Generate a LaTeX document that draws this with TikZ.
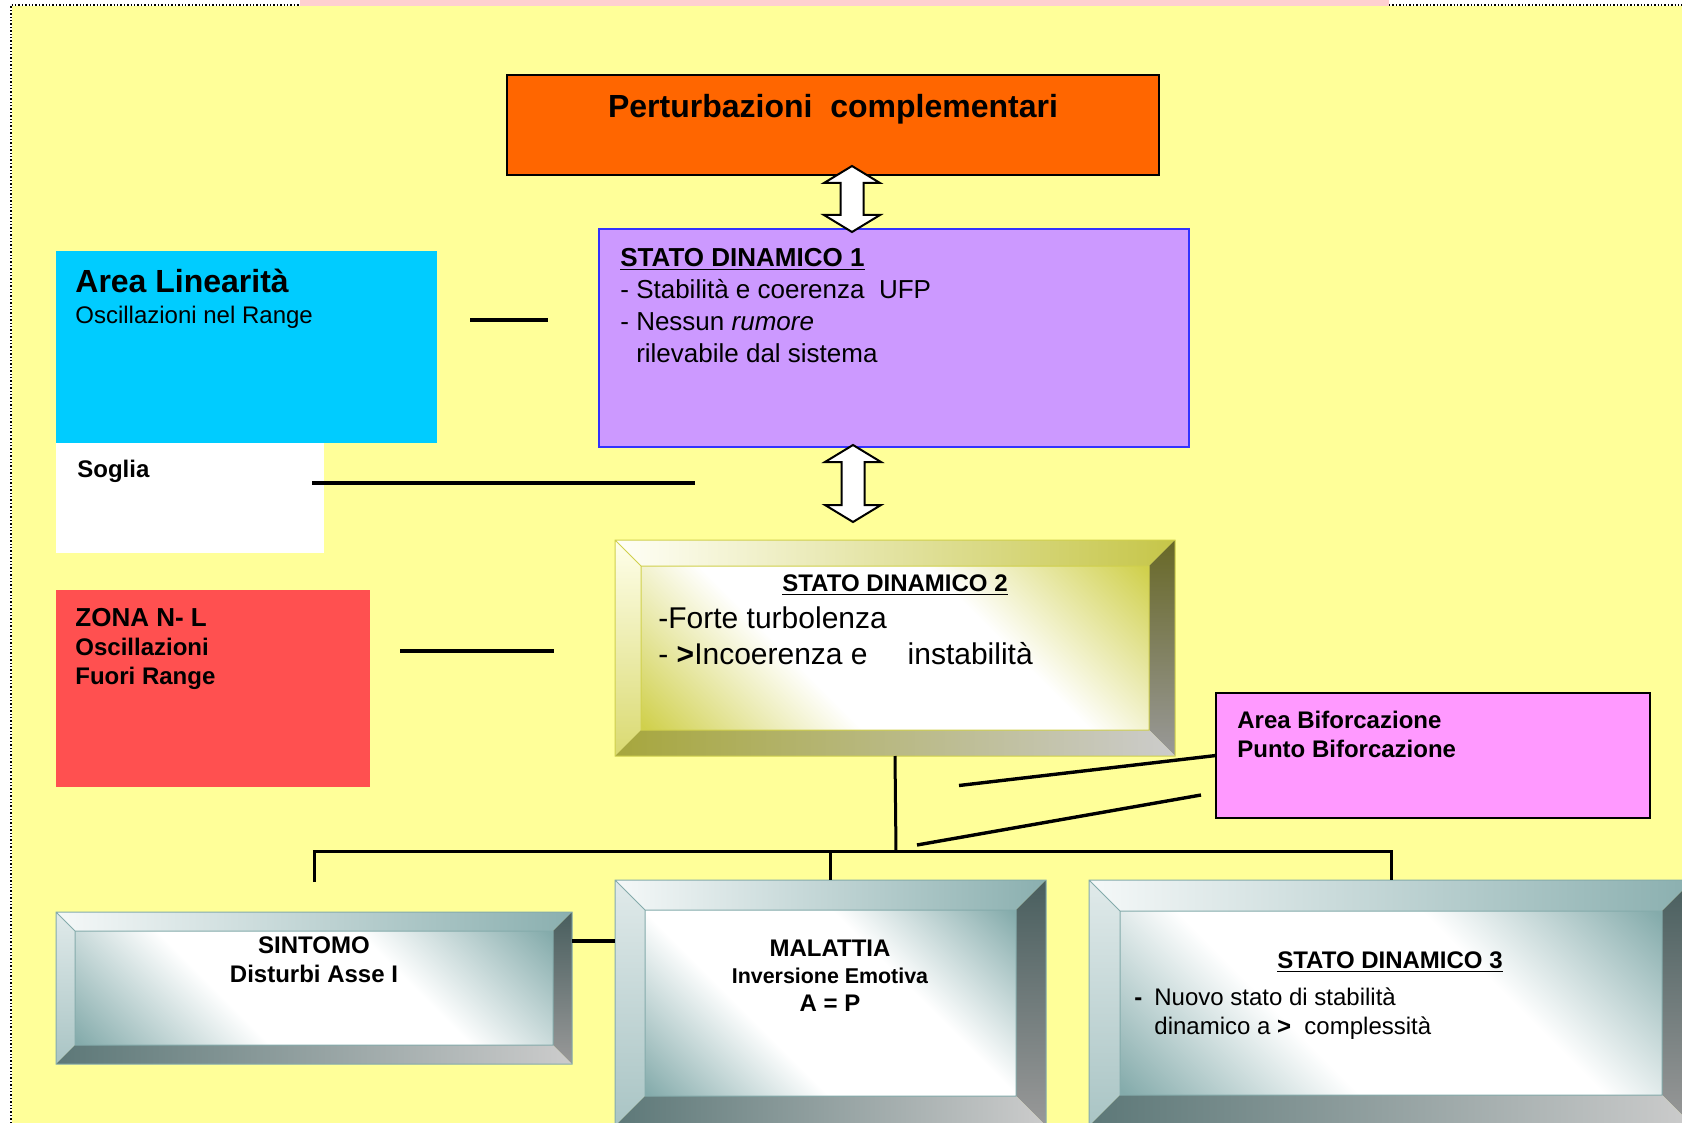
\documentclass[tikz,border=0pt]{standalone}
\usepackage{fontspec}
\setmainfont{Liberation Sans}
\usetikzlibrary{positioning, calc}

\definecolor{bgyellow}{HTML}{FFFF99}
\definecolor{topbar}{HTML}{FFD0D0}
\definecolor{pertorange}{HTML}{FF6600}
\definecolor{sdviolet}{HTML}{CC99FF}
\definecolor{sdblue}{HTML}{3333FF}
\definecolor{lincyan}{HTML}{00CCFF}
\definecolor{zonared}{HTML}{FF5050}
\definecolor{bifpink}{HTML}{FF99FF}
% yellow bevel (stato dinamico 2)
\definecolor{ycorner}{HTML}{D0D04C}
% teal bevel (sintomo, malattia, stato dinamico 3)
\definecolor{tcorner}{HTML}{84ABAB}

\pgfdeclarehorizontalshading{yfaceshade}{100bp}{color(0bp)=(ycorner); color(15bp)=(ycorner); color(38bp)=(white); color(62bp)=(white); color(85bp)=(ycorner); color(100bp)=(ycorner)}
\pgfdeclarehorizontalshading{tfaceshade}{100bp}{color(0bp)=(tcorner); color(15bp)=(tcorner); color(38bp)=(white); color(62bp)=(white); color(85bp)=(tcorner); color(100bp)=(tcorner)}

% bevelled box round a named node: #1 node, #2 bevel, #3 palette
\newcommand{\bevelbox}[3]{%
  \path[#3face] ($(#1.north west)+(#2,#2)$) rectangle ($(#1.south east)+(-#2,-#2)$);
  \path[#3top] (#1.north west) -- (#1.north east) -- ($(#1.north east)+(-#2,#2)$) -- ($(#1.north west)+(#2,#2)$) -- cycle;
  \path[#3left] (#1.north west) -- ($(#1.north west)+(#2,#2)$) -- ($(#1.south west)+(#2,-#2)$) -- (#1.south west) -- cycle;
  \path[#3right] (#1.north east) -- (#1.south east) -- ($(#1.south east)+(-#2,-#2)$) -- ($(#1.north east)+(-#2,#2)$) -- cycle;
  \path[#3bottom] (#1.south west) -- ($(#1.south west)+(#2,-#2)$) -- ($(#1.south east)+(-#2,-#2)$) -- (#1.south east) -- cycle;
  \draw[#3edge] (#1.north west) rectangle (#1.south east)
    ($(#1.north west)+(#2,#2)$) rectangle ($(#1.south east)+(-#2,-#2)$)
    (#1.north west) -- ++(#2,#2);
}

% hollow double arrow between two named points
\newcommand{\dblarrow}[2]{%
  \draw[blockarr] (#1) -- ++(28,17) -- ++(-16.5,0) -- ($(#2)+(11.5,-17)$) -- ++(16.5,0) -- (#2)
    -- ++(-28,-17) -- ++(16.5,0) -- ($(#1)+(-11.5,17)$) -- ++(-16.5,0) -- cycle;
}

\begin{document}
\begin{tikzpicture}[x=0.5pt, y=-0.5pt,
  box/.style={inner sep=0pt, outer sep=0pt},
  txt/.style={inner sep=0pt, anchor=north west, align=left},
  link/.style={line width=1.7pt},
  tree/.style={line width=1.5pt},
  blockarr/.style={draw, fill=white, line width=1pt, line join=miter},
  yface/.style={shade, shading=yfaceshade, shading angle=45},
  ytop/.style={left color=yellow!3, right color=ycorner!95!black},
  yleft/.style={top color=yellow!8, bottom color=ycorner!80},
  yright/.style={top color=ycorner!50!black, bottom color=black!40},
  ybottom/.style={left color=ycorner!80!black, right color=black!20},
  yedge/.style={draw=ycorner, line width=0.5pt},
  tface/.style={shade, shading=tfaceshade, shading angle=45},
  ttop/.style={left color=tcorner!8, right color=tcorner!95},
  tleft/.style={top color=tcorner!25, bottom color=tcorner!70},
  tright/.style={top color=tcorner!55!black, bottom color=black!40},
  tbottom/.style={left color=tcorner!70!black, right color=black!20},
  tedge/.style={draw=tcorner, line width=0.5pt}
]
\useasboundingbox (0,0) rectangle (1682,1123);
\clip (0,0) rectangle (1682,1123);

% background
\fill[topbar] (300,0) rectangle (1389,6);
\fill[bgyellow] (12,6) rectangle (1682,1123);
\draw[densely dotted, line width=0.7pt] (11,1123) -- (11,5) -- (300,5);
\draw[densely dotted, line width=0.7pt] (1389,5) -- (1682,5);

% Perturbazioni
\node[box, draw, line width=1pt, fill=pertorange, minimum width=326pt, minimum height=50pt] (pert) at (833,125) {};

% Stato dinamico 1
\node[box, draw=sdblue, line width=0.8pt, fill=sdviolet, minimum width=295pt, minimum height=109pt] (sd1) at (894,338) {};

% Area linearita / Soglia / Zona N-L
\node[box, fill=lincyan, minimum width=190.5pt, minimum height=96pt] (lin) at (246.5,347) {};
\node[box, fill=white, minimum width=134pt, minimum height=55pt, below=0pt of lin.south west, anchor=north west] (soglia) {};
\node[box, fill=zonared, minimum width=157pt, minimum height=98.5pt] (zona) at (213,688.5) {};

% Area biforcazione
\node[box, draw, line width=1pt, fill=bifpink, minimum width=217pt, minimum height=62.5pt] (bif) at (1433,755.5) {};

% bevelled boxes
\node[box, minimum width=280pt, minimum height=108pt] (sd2) at (895,648) {};
\bevelbox{sd2}{26}{y}
\node[box, minimum width=258pt, minimum height=76pt] (sint) at (314,988) {};
\bevelbox{sint}{19}{t}
\node[box, minimum width=215.5pt, minimum height=123pt] (mal) at (830.5,1003) {};
\bevelbox{mal}{30}{t}
\node[box, minimum width=302pt, minimum height=123pt] (sd3) at (1391,1003) {};
\bevelbox{sd3}{31}{t}

%--- double arrows ---
\coordinate (ar1top) at (852,166);
\coordinate (ar1bot) at (852,232);
\coordinate (ar2top) at (853,445);
\coordinate (ar2bot) at (853,522);
\dblarrow{ar1top}{ar1bot}
\dblarrow{ar2top}{ar2bot}

%--- side lines ---
\draw[link] ($(lin.north east)+(33,69)$) -- ++(78,0);
\draw[link] ($(soglia.east)+(-12,-15)$) -- ++(383,0);
\draw[link] ($(zona.north east)+(30,61)$) -- ++(154,0);
\draw[link] (bif.west) -- ++(-257,30);
\draw[link] ($(bif.south west)+(-15,-23)$) -- ++(-284,50);

%--- tree ---
\coordinate (hub) at (896,851);
\draw[tree] (sd2.south) -- (hub);
\draw[tree] ($(sint.north |- hub)+(0,31)$) -- (sint.north |- hub) -- (sd3.north |- hub) -- (sd3.north);
\draw[tree] (mal.north |- hub) -- (mal.north);
\draw[link] ($(sint.north east)+(0,29)$) -- ($(mal.north west)+(0,61)$);

%--- texts ---
\node[txt, anchor=north, font=\fontsize{16}{19}\selectfont\bfseries] at (833,93.5) {Perturbazioni\ \ complementari};
\node[txt, font=\fontsize{13}{16}\selectfont] at (620,248) {\textbf{\underline{STATO DINAMICO 1}}\\- Stabilità e coerenza\ \ UFP\\- Nessun \textit{rumore}\\\phantom{-\ }rilevabile dal sistema};
\node[txt, font=\fontsize{16}{19}\selectfont\bfseries] at (75,268.5) {Area Linearità};
\node[txt, font=\fontsize{12}{14}\selectfont] at (75,305.5) {Oscillazioni nel Range};
\node[txt, font=\fontsize{12}{14}\selectfont\bfseries] at (77,459.5) {Soglia};
\node[txt, font=\fontsize{12}{14.5}\selectfont\bfseries] at (75,608) {{\fontsize{13}{14.5}\selectfont ZONA N- L}\\Oscillazioni\\Fuori Range};
\node[txt, anchor=north, font=\fontsize{12}{14}\selectfont\bfseries] at (895,574.5) {\underline{STATO DINAMICO 2}};
\node[txt, font=\fontsize{15}{18}\selectfont] at (658,606) {-Forte turbolenza\\- \textbf{>}Incoerenza e\hspace{20pt}instabilità};
\node[txt, font=\fontsize{12}{14.5}\selectfont\bfseries] at (1237,710.5) {Area Biforcazione\\Punto Biforcazione};
\node[txt, anchor=north, align=center, font=\fontsize{12}{14.5}\selectfont\bfseries] at (314,936.5) {SINTOMO\\Disturbi Asse I};
\node[txt, anchor=north, align=center, font=\fontsize{12}{13.75}\selectfont\bfseries] at (830,939.5) {MALATTIA\\{\fontsize{10.7}{13.75}\selectfont Inversione Emotiva}\\A = P};
\node[txt, anchor=north, font=\fontsize{12}{14}\selectfont\bfseries] at (1390,951.5) {\underline{STATO DINAMICO 3}};
\node[txt, font=\fontsize{12}{14.5}\selectfont] at (1134,987) {\textbf{-}\hspace{6pt}Nuovo stato di stabilità\\\hspace*{10pt}dinamico a \textbf{>}\ \ complessità};

\end{tikzpicture}
\end{document}
